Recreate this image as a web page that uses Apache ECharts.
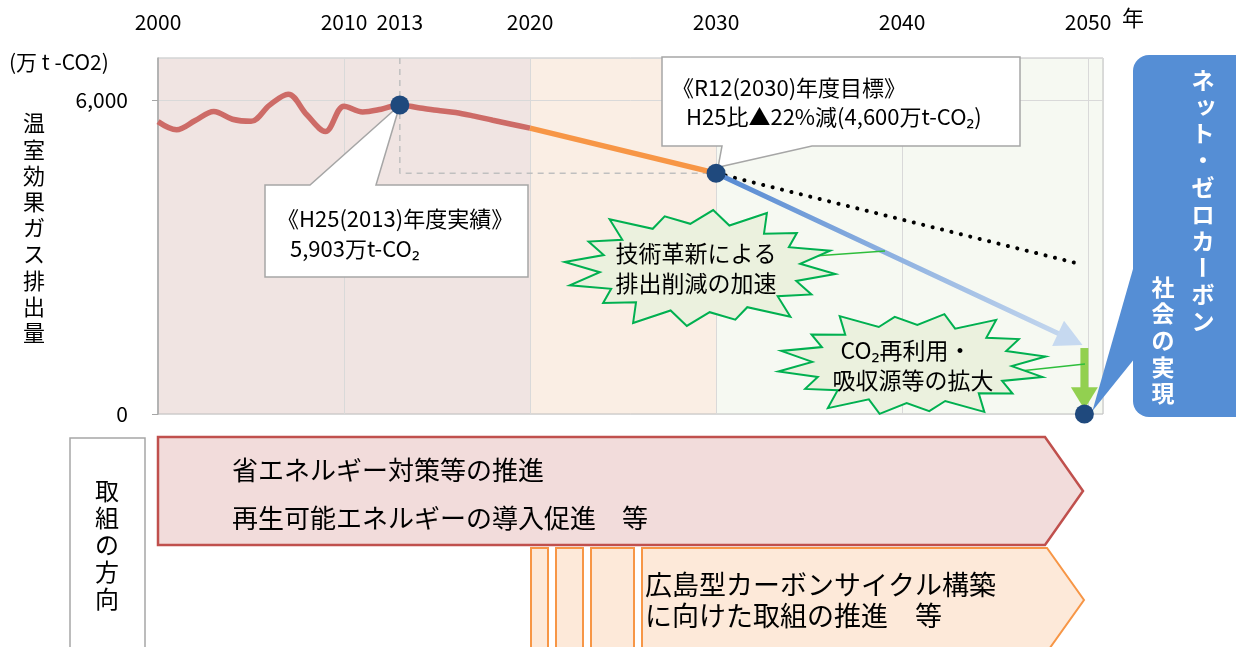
<!DOCTYPE html>
<html><head><meta charset="utf-8">
<script src="https://cdn.jsdelivr.net/npm/echarts@6/dist/echarts.min.js"></script>
<style>html,body{margin:0;padding:0;background:#fff}#c{width:1236px;height:647px}</style>
</head><body><div id="c"></div>
<script>
// ---------------- data ----------------
const xLabelYears = [2000, 2010, 2020, 2030, 2040, 2050];
const extraLabelYear = 2013;
const X_MIN = 2000, X_MAX = 2050.8;
const Y_MIN = 0, Y_MAX = 6800, Y_STEP = 6000;

const historyYears  = [2000,2001,2002,2003,2004,2005,2006,2007,2008,2009,2010,2011,2012,2013,2014,2015,2016,2017,2018,2019,2020];
const historyValues = [5585,5430,5605,5777,5630,5590,5900,6108,5715,5395,5880,5770,5822,5903,5850,5800,5760,5690,5610,5535,5460];
const outlookYears  = [2020, 2030];
const outlookValues = [5460, 4600];
const targetYears   = [2030, 2049.7];
const targetValues  = [4600, 1320];
const bauYears      = [2030, 2049.4];
const bauValues     = [4600, 2880];
const sinkYears     = [2049.8, 2049.8];
const sinkValues    = [1260, 90];
const markerYears   = [2013, 2030, 2049.8];
const markerValues  = [5903, 4600, 0];
const refYears      = [2013, 2013, 2030];
const refValues     = [6800, 4600, 4600];
const periodStarts  = [2000, 2020, 2030];
const periodEnds    = [2020, 2030, 2050.8];

// ---------------- styles ----------------
const FONT = "'Noto Sans CJK JP', 'Noto Sans', sans-serif";
const bandColors = ['#F0E4E2', '#FAEEE4', '#F6F9F2'];
const zip = (a, b) => a.map((v, i) => [v, b[i]]);

const chart = echarts.init(document.getElementById('c'), null, {renderer: 'canvas'});

const baseOption = {
  animation: false,
  backgroundColor: '#fff',
  grid: {left: 158, right: 133, top: 58, bottom: 233, show: true, borderColor: '#BFBFBF', borderWidth: 1, backgroundColor: 'transparent'},
  xAxis: [
    {type: 'value', min: X_MIN, max: X_MAX, interval: 10, position: 'top',
     axisLine: {show: false}, axisTick: {show: false},
     axisLabel: {fontFamily: FONT, fontSize: 21, color: '#000', margin: 25, showMaxLabel: false,
       formatter: v => xLabelYears.includes(v) ? String(v) : ''},
     splitLine: {show: true, lineStyle: {color: '#D9D9D9', width: 1}}},
    {type: 'value', min: X_MIN, max: X_MAX, interval: extraLabelYear - X_MIN, position: 'top',
     axisLine: {show: false}, axisTick: {show: false}, splitLine: {show: false},
     axisLabel: {fontFamily: FONT, fontSize: 21, color: '#000', margin: 25, showMaxLabel: false,
       formatter: v => v === extraLabelYear ? String(v) : ''}}
  ],
  yAxis: {type: 'value', min: Y_MIN, max: Y_MAX, interval: Y_STEP,
    axisLine: {show: true, lineStyle: {color: '#A6A6A6', width: 1.5}},
    axisTick: {show: true, length: 6, lineStyle: {color: '#A6A6A6'}},
    axisLabel: {fontFamily: FONT, fontSize: 21, color: '#000', margin: 30, showMaxLabel: false,
      formatter: v => v.toLocaleString('en-US')},
    splitLine: {show: true, lineStyle: {color: '#D9D9D9'}}},
  series: [
    {type: 'custom', name: 'bands', z: -1, silent: true, xAxisIndex: 0, yAxisIndex: 0,
     data: periodStarts.map((s, i) => [s, periodEnds[i], i]),
     encode: {x: [0, 1]},
     renderItem: (params, api) => {
       const p0 = api.coord([api.value(0), Y_MAX]);
       const p1 = api.coord([api.value(1), Y_MIN]);
       return {type: 'rect', shape: {x: p0[0], y: p0[1], width: p1[0] - p0[0], height: p1[1] - p0[1]},
               style: {fill: bandColors[api.value(2)]}};
     }},
    {type: 'line', name: 'ref', z: 2, silent: true, data: zip(refYears, refValues), symbol: 'none',
     lineStyle: {color: '#BFBFBF', width: 1.5, type: [6, 5]}},
    {type: 'line', name: 'history', z: 3, data: zip(historyYears, historyValues), symbol: 'none', smooth: 0.35,
     lineStyle: {color: '#CD6B67', width: 5.5}},
    {type: 'line', name: 'outlook', z: 3, data: zip(outlookYears, outlookValues), symbol: 'none',
     lineStyle: {color: '#F79646', width: 5.5}},
    {type: 'line', name: 'bau', z: 3, data: zip(bauYears, bauValues), symbol: 'none',
     lineStyle: {color: '#000', width: 4, type: [0.1, 9.6], cap: 'round'}},
    {type: 'line', name: 'target', z: 3, data: zip(targetYears, targetValues), symbol: 'none',
     lineStyle: {width: 5, color: new echarts.graphic.LinearGradient(0, 0, 1, 0, [
       {offset: 0, color: '#5589D2'}, {offset: 1, color: '#C4D7EE'}])}},
    {type: 'line', name: 'sink', z: 3, data: zip(sinkYears, sinkValues), symbol: 'none',
     lineStyle: {color: '#92D050', width: 8}},
    {type: 'scatter', name: 'markers', z: 10, clip: false, data: zip(markerYears, markerValues),
     symbolSize: 19, itemStyle: {color: '#1F497D', opacity: 1}}
  ]
};
chart.setOption(baseOption);

// ---------------- pixel helpers (through the library's scales) ----------------
const finder = {xAxisIndex: 0, yAxisIndex: 0};
const px = (x, y) => chart.convertToPixel(finder, [x, y]);
const dt = p => chart.convertFromPixel(finder, p);

// blue arrow head
const S = px(targetYears[0], targetValues[0]);
const T = px(targetYears[1], targetValues[1]);
let ux = T[0] - S[0], uy = T[1] - S[1];
const L = Math.hypot(ux, uy); ux /= L; uy /= L;
const hl = 27, hw = 14;
const B = [T[0] - ux * hl, T[1] - uy * hl];
const blueHead = [T, [B[0] - uy * hw, B[1] + ux * hw], [B[0] + uy * hw, B[1] - ux * hw]];
const blueEnd = dt([B[0] + ux * 2, B[1] + uy * 2]);

// green arrow head
const G1 = px(sinkYears[1], sinkValues[1]);
const ghl = 22, ghw = 13.5;
const greenHead = [[G1[0], G1[1]], [G1[0] - ghw, G1[1] - ghl], [G1[0] + ghw, G1[1] - ghl]];
const greenEnd = dt([G1[0], G1[1] - ghl + 2]);

const P13 = px(markerYears[0], markerValues[0]);
const P30 = px(markerYears[1], markerValues[1]);
const P50 = px(markerYears[2], markerValues[2]);

// ---------------- graphics ----------------
function txt(text, x, y, size, opts) {
  opts = opts || {};
  return {type: 'text', x: x, y: y, z: opts.z || 6, silent: true,
    style: {text: text, fontFamily: FONT, fontSize: size, fontWeight: opts.weight || 'normal',
      fill: opts.color || '#000', align: opts.align || 'left', verticalAlign: 'middle'}};
}
function vcol(str, x, y0, pitch, size, opts) {
  opts = opts || {};
  return str.split('').map((ch, i) => {
    const el = txt(ch, x, y0 + i * pitch, size, Object.assign({align: 'center'}, opts));
    if (ch === 'ー') el.rotation = -Math.PI / 2;
    if ('ッャュョァィゥェォ'.includes(ch)) { el.x += size * 0.12; el.y -= size * 0.12; }
    return el;
  });
}
function burst(cx, cy, rx, ry, n, inner, phase) {
  const pattern = [1, 0.93, 1.05, 0.9, 0.97, 1.04, 0.92, 1.0];
  const pts = [];
  for (let i = 0; i < 2 * n; i++) {
    const a = phase + Math.PI * i / n;
    const k = i % 2 === 0 ? pattern[(i / 2) % pattern.length] : inner;
    pts.push([cx + rx * k * Math.cos(a), cy + ry * k * Math.sin(a)]);
  }
  return pts;
}

const graphics = [];
// callout 2013
graphics.push({type: 'polygon', z: 5, silent: true,
  shape: {points: [[265, 185], [310, 185], [P13[0], P13[1]], [376, 185], [528, 185], [528, 277], [265, 277]]},
  style: {fill: '#fff', stroke: '#A6A6A6', lineWidth: 1.5}});
graphics.push(txt('《H25(2013)年度実績》', 277, 219, 22));
graphics.push(txt('5,903万t-CO₂', 290, 249, 22));
// callout 2030
graphics.push({type: 'polygon', z: 5, silent: true,
  shape: {points: [[662, 57], [1020, 57], [1020, 146], [812, 146], [P30[0] + 2, P30[1] - 6], [722, 146], [662, 146]]},
  style: {fill: '#fff', stroke: '#A6A6A6', lineWidth: 1.5}});
graphics.push(txt('《R12(2030)年度目標》', 672, 88, 22));
graphics.push(txt('H25比▲22%減(4,600万t-CO₂)', 686, 117, 22));
// bursts
graphics.push({type: 'line', z: 4, silent: true, shape: {x1: 800, y1: 257, x2: 885, y2: 251}, style: {stroke: '#2EBE3C', lineWidth: 1.5}});
graphics.push({type: 'line', z: 4, silent: true, shape: {x1: 1020, y1: 371, x2: 1085, y2: 364}, style: {stroke: '#2EBE3C', lineWidth: 1.5}});
graphics.push({type: 'polygon', z: 5, silent: true, shape: {points: burst(700, 268, 136, 60, 16, 0.74, 0.1)},
  style: {fill: '#EBF1DE', stroke: '#00B050', lineWidth: 2}});
graphics.push({type: 'polygon', z: 5, silent: true, shape: {points: burst(912, 364, 135, 53, 16, 0.74, 0.25)},
  style: {fill: '#EBF1DE', stroke: '#00B050', lineWidth: 2}});
graphics.push(txt('技術革新による', 696, 253, 23, {align: 'center'}));
graphics.push(txt('排出削減の加速', 696, 283, 23, {align: 'center'}));
graphics.push(txt('CO₂再利用・', 906, 350, 23, {align: 'center'}));
graphics.push(txt('吸収源等の拡大', 913, 380, 23, {align: 'center'}));
// arrow heads
graphics.push({type: 'polygon', z: 7, silent: true, shape: {points: blueHead}, style: {fill: '#C6D9F0'}});
graphics.push({type: 'polygon', z: 7, silent: true, shape: {points: greenHead}, style: {fill: '#92D050'}});
// net-zero callout
graphics.push({type: 'polygon', z: 8, silent: true,
  shape: {points: [[1135, 262], [P50[0] + 8, P50[1] - 3], [1135, 358]]}, style: {fill: '#558ED5'}});
graphics.push({type: 'rect', z: 8, silent: true, shape: {x: 1133, y: 55, width: 120, height: 362, r: 16}, style: {fill: '#558ED5'}});
graphics.push(...vcol('ネット・ゼロカーボン', 1203, 80, 26.8, 23, {color: '#fff', weight: 'bold', z: 9}));
graphics.push(...vcol('社会の実現', 1163, 287, 26.6, 23, {color: '#fff', weight: 'bold', z: 9}));
// axis titles
graphics.push(txt('年', 1122, 18, 22));
graphics.push(txt('(万 t -CO2)', 9, 62, 21));
graphics.push(...vcol('温室効果ガス排出量', 34, 123, 26.2, 22));
// bottom section
graphics.push({type: 'rect', z: 5, silent: true, shape: {x: 70, y: 438, width: 75, height: 230}, style: {fill: '#fff', stroke: '#A6A6A6', lineWidth: 1.5}});
graphics.push(...vcol('取組の方向', 107, 491, 27, 24));
graphics.push({type: 'polygon', z: 5, silent: true,
  shape: {points: [[158, 437], [1045, 437], [1083, 491], [1045, 545], [158, 545]]},
  style: {fill: '#F2DCDB', stroke: '#C0504D', lineWidth: 2.5}});
graphics.push(txt('省エネルギー対策等の推進', 232, 470, 26));
graphics.push(txt('再生可能エネルギーの導入促進　等', 232, 518, 26));
[[531, 548], [556, 583], [591, 634]].forEach(s => graphics.push({type: 'rect', z: 5, silent: true,
  shape: {x: s[0], y: 548, width: s[1] - s[0], height: 120}, style: {fill: '#FDE9D9', stroke: '#F79646', lineWidth: 2}}));
graphics.push({type: 'polygon', z: 5, silent: true,
  shape: {points: [[642, 548], [1047, 548], [1084, 600], [1047, 652], [642, 652]]},
  style: {fill: '#FDE9D9', stroke: '#F79646', lineWidth: 2}});
graphics.push(txt('広島型カーボンサイクル構築', 645, 585, 27));
graphics.push(txt('に向けた取組の推進　等', 645, 616, 27));

chart.setOption({
  series: [
    {name: 'bands'}, {name: 'ref'}, {name: 'history'}, {name: 'outlook'}, {name: 'bau'},
    {name: 'target', data: [[targetYears[0], targetValues[0]], blueEnd]},
    {name: 'sink', data: [[sinkYears[0], sinkValues[0]], greenEnd]},
    {name: 'markers'}
  ],
  graphic: graphics
});
</script>
</body></html>
